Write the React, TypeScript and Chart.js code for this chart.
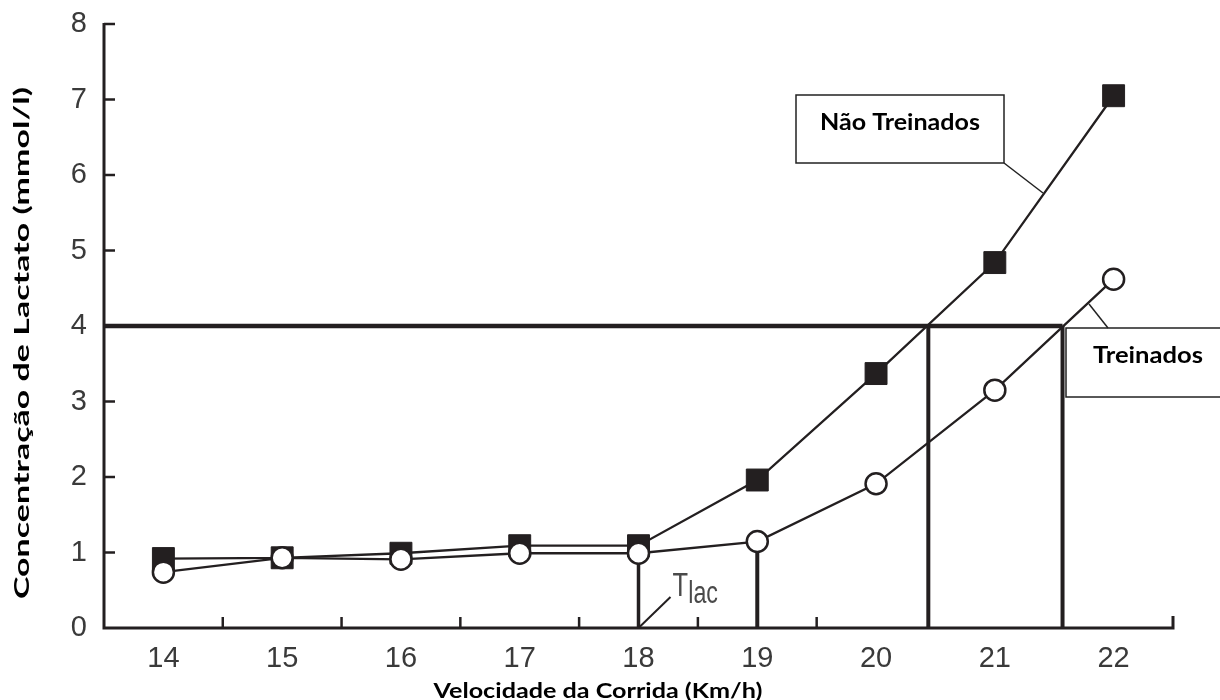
import { useEffect, useRef } from "react";
import { Chart, registerables } from "chart.js";

Chart.register(...registerables);

// ---- data ----
const speeds = [14, 15, 16, 17, 18, 19, 20, 21, 22];
const naoTreinados = [0.92, 0.93, 0.99, 1.09, 1.09, 1.96, 3.37, 4.84, 7.05];
const treinados = [0.74, 0.93, 0.91, 0.99, 0.99, 1.145, 1.91, 3.15, 4.62];
const xTickLabels = [14, 15, 16, 17, 18, 19, 20, 21, 22];
const yTickLabels = [0, 1, 2, 3, 4, 5, 6, 7, 8];
const xMinorTicks = [14.5, 15.5, 16.5, 17.5, 18.5, 19.5];
const thresholdLine = [
  { x: 13.5, y: 4 },
  { x: 21.57, y: 4 },
];
const tlacLine = [
  { x: 18, y: 0 },
  { x: 18, y: 0.99 },
];
const line19 = [
  { x: 19, y: 0 },
  { x: 19, y: 1.145 },
];
const lineNaoTreinados4 = [
  { x: 20.44, y: 0 },
  { x: 20.44, y: 4 },
];
const lineTreinados4 = [
  { x: 21.57, y: 0 },
  { x: 21.57, y: 4 },
];

const xTitle = "Velocidade da Corrida (Km/h)";
const yTitle = "Concentração de Lactato (mmol/l)";
const labelNao = "Não Treinados";
const labelTrein = "Treinados";

const INK = "#231f20";

function stretchedText(
  ctx: CanvasRenderingContext2D,
  text: string,
  x: number,
  y: number,
  font: string,
  targetW: number,
  rotation = 0
) {
  ctx.save();
  ctx.font = font;
  const w = ctx.measureText(text).width;
  ctx.translate(x, y);
  ctx.rotate(rotation);
  ctx.scale(targetW / w, 1);
  ctx.textAlign = "center";
  ctx.textBaseline = "alphabetic";
  ctx.fillStyle = "#000";
  ctx.fillText(text, 0, 0);
  ctx.restore();
}

const decorPlugin = {
  id: "decor",
  afterDraw(chart: any) {
    const ctx: CanvasRenderingContext2D = chart.ctx;
    const xs = chart.scales.x;
    const ys = chart.scales.y;
    const x0 = xs.getPixelForValue(xs.min);
    const x1 = xs.getPixelForValue(xs.max);
    const y0 = ys.getPixelForValue(0);
    const y8 = ys.getPixelForValue(8);

    ctx.save();
    ctx.strokeStyle = INK;
    ctx.lineCap = "butt";
    // axes
    ctx.lineWidth = 3;
    ctx.beginPath();
    ctx.moveTo(x0, y8 - 1);
    ctx.lineTo(x0, y0);
    ctx.lineTo(x1, y0);
    ctx.lineTo(x1, y0 - 12);
    ctx.stroke();
    // y ticks (inward)
    ctx.lineWidth = 2.5;
    for (const v of yTickLabels) {
      const py = ys.getPixelForValue(v);
      if (v === 0) continue;
      ctx.beginPath();
      ctx.moveTo(x0, py);
      ctx.lineTo(x0 + 11, py);
      ctx.stroke();
    }
    // x minor ticks (inward)
    for (const v of xMinorTicks) {
      const px = xs.getPixelForValue(v);
      ctx.beginPath();
      ctx.moveTo(px, y0);
      ctx.lineTo(px, y0 - 11);
      ctx.stroke();
    }

    // Tlac label & leader
    const p18 = xs.getPixelForValue(18);
    ctx.lineWidth = 2;
    ctx.beginPath();
    ctx.moveTo(p18 + 1, y0 - 1);
    ctx.lineTo(p18 + 32, y0 - 31);
    ctx.stroke();
    ctx.fillStyle = "#4a4a4a";
    ctx.save();
    ctx.translate(p18 + 34, 0);
    ctx.scale(0.75, 1);
    ctx.font = "34px 'Liberation Sans', Arial, sans-serif";
    ctx.textBaseline = "alphabetic";
    ctx.textAlign = "left";
    ctx.fillText("T", 0, 596);
    ctx.font = "31px 'Liberation Sans', Arial, sans-serif";
    ctx.fillText("lac", 21, 603);
    ctx.restore();

    // annotation boxes
    ctx.fillStyle = "#fff";
    ctx.strokeStyle = "#222";
    ctx.lineWidth = 1.5;
    ctx.fillRect(796, 95, 208, 68);
    ctx.strokeRect(796, 95, 208, 68);
    ctx.beginPath();
    ctx.moveTo(1004, 163);
    ctx.lineTo(1043, 193);
    ctx.stroke();

    ctx.fillRect(1066, 328, 160, 69);
    ctx.strokeRect(1066, 328, 160, 69);
    ctx.beginPath();
    ctx.moveTo(1108, 328);
    ctx.lineTo(1089, 304);
    ctx.stroke();
    ctx.restore();

    const boldFont = "bold 23px Lato, 'Open Sans', sans-serif";
    stretchedText(ctx, labelNao, 900, 130, boldFont, 160);
    stretchedText(ctx, labelTrein, 1148, 363, boldFont, 110);

    // axis titles
    const titleFont = "bold 20px Lato, 'Open Sans', sans-serif";
    stretchedText(ctx, xTitle, 598, 698, titleFont, 329);
    stretchedText(ctx, yTitle, 29, 343, titleFont, 512, -Math.PI / 2);
  },
};

export default function App() {
  const ref = useRef<HTMLCanvasElement | null>(null);

  useEffect(() => {
    if (!ref.current) return;
    const refLine = (data: { x: number; y: number }[], width: number) => ({
      data,
      borderColor: INK,
      borderWidth: width,
      pointRadius: 0,
      borderCapStyle: "butt" as const,
      clip: false as const,
      fill: false,
    });
    const chart = new Chart(ref.current, {
      type: "line",
      data: {
        datasets: [
          {
            label: labelTrein,
            data: speeds.map((x, i) => ({ x, y: treinados[i] })),
            borderColor: INK,
            borderWidth: 2.3,
            pointStyle: "circle",
            pointRadius: 10.5,
            pointBackgroundColor: "#fff",
            pointBorderColor: INK,
            pointBorderWidth: 2.5,
            tension: 0,
            clip: false,
          },
          {
            label: labelNao,
            data: speeds.map((x, i) => ({ x, y: naoTreinados[i] })),
            borderColor: INK,
            borderWidth: 2.3,
            pointStyle: "rect",
            pointRadius: 15.5,
            pointBackgroundColor: INK,
            pointBorderColor: INK,
            pointBorderWidth: 1,
            tension: 0,
            clip: false,
          },
          refLine(thresholdLine, 4.5),
          refLine(tlacLine, 3.5),
          refLine(line19, 4),
          refLine(lineNaoTreinados4, 4),
          refLine(lineTreinados4, 4),
        ] as any,
      },
      options: {
        animation: false,
        responsive: false,
        events: [],
        layout: { padding: { top: 24, right: 47, bottom: 0, left: 0 } },
        plugins: {
          legend: { display: false },
          tooltip: { enabled: false },
          title: { display: false },
        },
        scales: {
          x: {
            type: "linear",
            min: 13.5,
            max: 22.5,
            afterBuildTicks: (s: any) => {
              s.ticks = xTickLabels.map((v) => ({ value: v }));
            },
            afterFit: (s: any) => {
              s.height = 72;
              s.paddingLeft = 0;
              s.paddingRight = 0;
            },
            grid: { display: false, drawTicks: false },
            border: { display: false },
            ticks: {
              autoSkip: false,
              maxRotation: 0,
              padding: 14,
              color: "#3a3a3a",
              font: { family: "'Liberation Sans', Arial, sans-serif", size: 29 },
            },
          },
          y: {
            type: "linear",
            min: 0,
            max: 8,
            afterBuildTicks: (s: any) => {
              s.ticks = yTickLabels.map((v) => ({ value: v }));
            },
            afterFit: (s: any) => {
              s.width = 104;
              s.paddingTop = 0;
              s.paddingBottom = 0;
            },
            grid: { display: false, drawTicks: false },
            border: { display: false },
            ticks: {
              padding: 17,
              color: "#3a3a3a",
              font: { family: "'Liberation Sans', Arial, sans-serif", size: 29 },
            },
          },
        },
      },
      plugins: [decorPlugin],
    });
    return () => chart.destroy();
  }, []);

  return (
    <div
      style={{
        position: "fixed",
        left: 0,
        top: 0,
        width: 1220,
        height: 700,
        background: "#fff",
      }}
    >
      <canvas ref={ref} width={1220} height={700} />
    </div>
  );
}
